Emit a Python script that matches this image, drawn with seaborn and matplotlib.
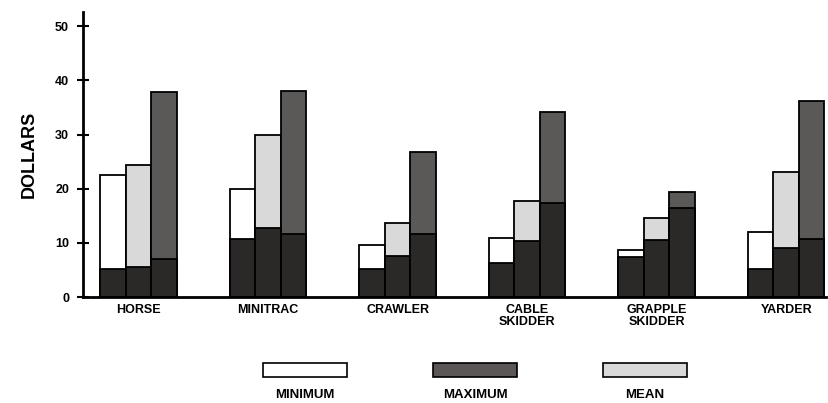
import matplotlib
matplotlib.use("Agg")
import matplotlib.pyplot as plt
import matplotlib.patches as mpatches
import seaborn as sns
import pandas as pd

# values (dollars)
machines = ["HORSE", "MINITRAC", "CRAWLER", "CABLE\nSKIDDER", "GRAPPLE\nSKIDDER", "YARDER"]
minimum = [22.6, 20.0, 9.6, 10.9, 8.7, 12.0]
mean = [24.4, 30.0, 13.7, 17.7, 14.5, 23.0]
maximum = [37.9, 38.1, 26.7, 34.1, 19.4, 36.2]
# dark lower part of each bar
minimum_base = [5.2, 10.7, 5.2, 6.2, 7.4, 5.2]
mean_base = [5.6, 12.7, 7.6, 10.3, 10.5, 9.0]
maximum_base = [7.0, 11.6, 11.6, 17.3, 16.5, 10.8]

stats = ["MINIMUM", "MEAN", "MAXIMUM"]
colors = {"MINIMUM": "#ffffff", "MEAN": "#d9d9d9", "MAXIMUM": "#5c5757"}
base_color = "#2c2727"

rows = []
for stat, tops, bases in zip(stats, [minimum, mean, maximum],
                             [minimum_base, mean_base, maximum_base]):
    for m, t, b in zip(machines, tops, bases):
        rows.append({"machine": m, "stat": stat, "value": t, "base": b})
df = pd.DataFrame(rows)

sns.set_style("white")
plt.rcParams["font.family"] = ["Liberation Sans", "DejaVu Sans"]
plt.rcParams["text.color"] = "black"
plt.rcParams["axes.labelcolor"] = "black"
plt.rcParams["xtick.color"] = "black"
plt.rcParams["ytick.color"] = "black"

fig = plt.figure(figsize=(8.29, 4.03), dpi=100)
ax = fig.add_axes([0.100, 0.263, 0.896, 0.707])

bar_w = 0.59
sns.barplot(data=df, x="machine", y="value", hue="stat", hue_order=stats,
            order=machines, palette=colors, width=bar_w, gap=0, errorbar=None,
            edgecolor="black", linewidth=1.3, legend=False, ax=ax)
sns.barplot(data=df, x="machine", y="base", hue="stat", hue_order=stats,
            order=machines, palette={s: base_color for s in stats}, width=bar_w,
            gap=0, errorbar=None, edgecolor="black", linewidth=1.3,
            legend=False, ax=ax)

ax.set_xlim(-0.43, len(machines) - 1 + bar_w / 2 + 0.01)
ax.set_ylim(0, 52.6)
ax.set_yticks([0, 10, 20, 30, 40, 50])
ax.set_yticklabels(["0", "10", "20", "30", "40", "50"], fontweight="bold", fontsize=9)
ax.set_xticks(range(len(machines)))
ax.set_xticklabels(machines, fontweight="bold", fontsize=9, linespacing=1.0)
ax.tick_params(axis="y", direction="inout", length=8, width=1.5, pad=6, left=True)
ax.tick_params(axis="x", length=0, pad=5)
ax.set_xlabel("")
ax.set_ylabel("DOLLARS", fontweight="bold", fontsize=13, labelpad=12)

for side in ["top", "right"]:
    ax.spines[side].set_visible(False)
for side in ["left", "bottom"]:
    ax.spines[side].set_linewidth(2)
    ax.spines[side].set_color("black")

# legend: boxes with labels beneath
legend_order = ["MINIMUM", "MAXIMUM", "MEAN"]
handles = [mpatches.Patch(facecolor=colors[s], edgecolor="black", linewidth=1.2)
           for s in legend_order]
leg = fig.legend(handles, ["", "", ""], ncol=3, loc="center",
                 bbox_to_anchor=(0.573, 0.082), frameon=False, fontsize=9,
                 handlelength=6.7, handleheight=1.3, handletextpad=0,
                 columnspacing=6.9)
fig.canvas.draw()
inv = fig.transFigure.inverted()
for h, s in zip(leg.legend_handles, legend_order):
    bb = h.get_window_extent()
    x0, y0 = inv.transform((bb.x0, bb.y0))
    x1, y1 = inv.transform((bb.x1, bb.y1))
    fig.text((x0 + x1) / 2, y0 - 0.03, s, ha="center", va="top",
             fontweight="bold", fontsize=9.5)

fig.savefig("out.png", dpi=100)
